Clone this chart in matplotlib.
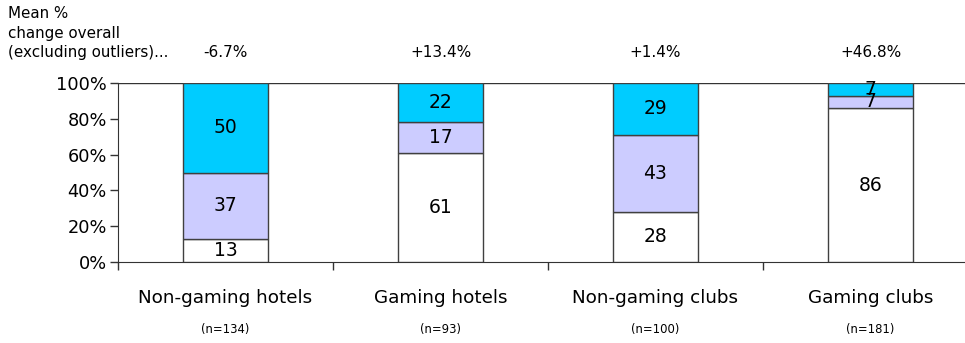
import matplotlib
matplotlib.use("Agg")
import matplotlib.pyplot as plt
import numpy as np

categories = ["Non-gaming hotels", "Gaming hotels", "Non-gaming clubs", "Gaming clubs"]
n_labels = ["(n=134)", "(n=93)", "(n=100)", "(n=181)"]
mean_change = ["-6.7%", "+13.4%", "+1.4%", "+46.8%"]
bottom_vals = [13, 61, 28, 86]
middle_vals = [37, 17, 43, 7]
top_vals = [50, 22, 29, 7]
y_ticks = [0, 20, 40, 60, 80, 100]

colors = ["#FFFFFF", "#CCCCFF", "#00CCFF"]
edge = "#404040"

fig = plt.figure(figsize=(9.65, 3.43), dpi=100)
W, H = 965, 343
ax = fig.add_axes([118 / W, (H - 262) / H, (978 - 118) / W, (262 - 83) / H])

x = np.arange(len(categories))
bw = 0.395
series = [bottom_vals, middle_vals, top_vals]
base = np.zeros(len(categories))
for vals, c in zip(series, colors):
    ax.bar(x, vals, bw, bottom=base, color=c, edgecolor=edge, linewidth=1.0, zorder=3)
    for xi, b, v in zip(x, base, vals):
        ax.text(xi, b + v / 2, str(v), ha="center", va="center", fontsize=13.5, color="black", zorder=4)
    base = base + np.array(vals)

ax.set_xlim(-0.5, len(categories) - 0.5)
ax.set_ylim(0, 100)
ax.set_yticks(y_ticks)
ax.set_yticklabels([f"{t}%" for t in y_ticks], fontsize=12.8)
ax.set_xticks(np.arange(len(categories) + 1) - 0.5)
ax.set_xticklabels([])
ax.tick_params(axis="both", direction="out", length=6, width=1, color="#333333")
ax.tick_params(axis="y", pad=2)
for s in ["left", "bottom"]:
    ax.spines[s].set_color("#333333")
ax.spines["right"].set_visible(False)
ax.spines["top"].set_visible(False)
ax.axhline(100, color="#333333", linewidth=1, zorder=2)

for xi, cat, n, m in zip(x, categories, n_labels, mean_change):
    ax.text(xi, -20, cat, ha="center", va="center", fontsize=13.2, clip_on=False)
    ax.text(xi, -37.5, n, ha="center", va="center", fontsize=8.4, clip_on=False)
    ax.text(xi, 117, m, ha="center", va="center", fontsize=11, clip_on=False)

fig.text(8 / W, 1 - 53 / H, "(excluding outliers)...", ha="left", va="center", fontsize=10.9)
fig.text(8 / W, 1 - 33.5 / H, "change overall", ha="left", va="center", fontsize=10.9)
fig.text(8 / W, 1 - 14 / H, "Mean %", ha="left", va="center", fontsize=10.9)

fig.savefig("out.png", dpi=100, facecolor="white")
